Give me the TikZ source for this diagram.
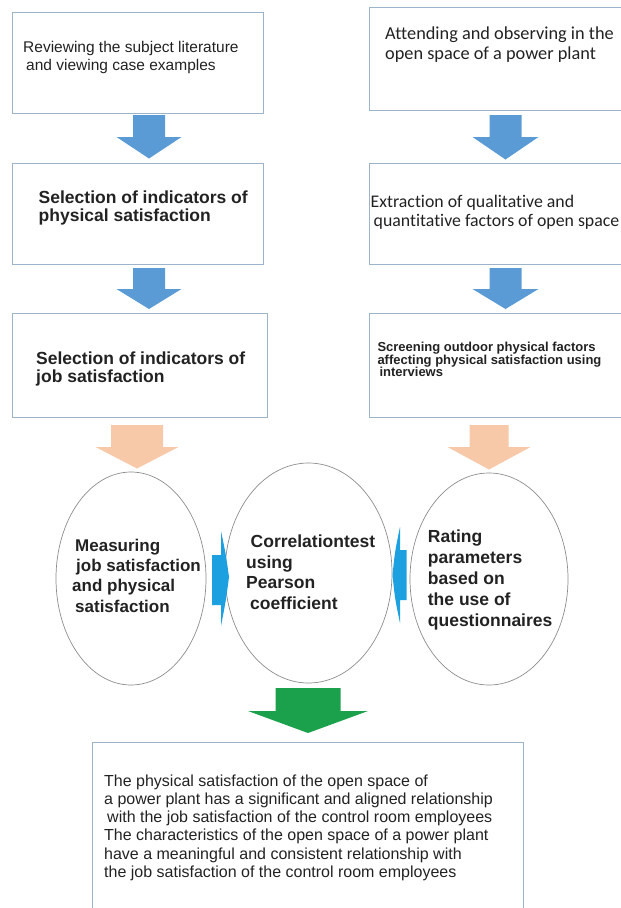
\documentclass[tikz,border=0pt]{standalone}
\usepackage{fontspec}
\setmainfont{Liberation Sans}
\newfontfamily\calibri[Ligatures=NoCommon]{Carlito}
\usepackage{tikz}
\usetikzlibrary{shapes.geometric, positioning}
\definecolor{BoxLine}{HTML}{9DB3C7}
\definecolor{OvalLine}{HTML}{8C8C8C}
\definecolor{StepBlue}{HTML}{5B9BD5}
\definecolor{Peach}{HTML}{F8C9A8}
\definecolor{LeafGreen}{HTML}{1BA14B}
\definecolor{SideCyan}{HTML}{1CA0E0}
\definecolor{InkGray}{HTML}{222222}
\newcommand{\fsz}[2]{\fontsize{#1}{#2}\selectfont}
% block arrow pointing down: colour, x, top, shaft half, head half, shaft len, head len
\newcommand{\blockdown}[7]{%
  \fill[#1] (#2-#4,#3) -- (#2+#4,#3) -- (#2+#4,#3+#6) -- (#2+#5,#3+#6)
    -- (#2,#3+#6+#7) -- (#2-#5,#3+#6) -- (#2-#4,#3+#6) -- cycle;}

\begin{document}
\begin{tikzpicture}[
    x=1pt, y=-1pt,
    box/.style={rectangle, draw=BoxLine, line width=0.8pt, inner sep=0pt,
                minimum width=251pt, minimum height=101pt},
    oval/.style={ellipse, draw=OvalLine, line width=0.7pt, inner sep=0pt},
    txt/.style={inner sep=0pt, align=left, anchor=base west, text=InkGray}
]
    \useasboundingbox (0,0) rectangle (621,908);
    \clip (0,0) rectangle (621,908);

    % Left column
    \node[box] (lit) at (137.5,62.5) {};
    \node[box, below=50pt of lit] (physsel) {};
    \node[box, below=48pt of physsel, minimum width=255pt, minimum height=104pt, xshift=2pt] (jobsel) {};

    % Right column
    \node[box, minimum width=262pt, minimum height=103pt] (attend) at (500,58.5) {};
    \node[box, minimum width=262pt, below=53pt of attend] (extract) {};
    \node[box, minimum width=262pt, minimum height=104pt, below=48pt of extract] (screen) {};

    % Ovals
    \node[oval, minimum width=150pt, minimum height=213pt] (measure) at (131,578.5) {};
    \node[oval, minimum width=167pt, minimum height=220pt] (corr) at (308.5,573) {};
    \node[oval, minimum width=158pt, minimum height=212pt] (rating) at (489,579) {};

    % Result
    \node[box, minimum width=431pt, minimum height=200pt, anchor=north] (concl) at (307.5,742) {};

    % Texts (placed at the baseline of the last line)
    \node[txt, font=\fsz{15.5}{17.5}] (lit-txt) at (23,70)
        {Reviewing the subject literature\\\hspace*{3pt}and viewing case examples};
    \node[txt, font=\fsz{17.5}{18.5}\bfseries] (physsel-txt) at (38.5,221.8)
        {Selection of indicators of\\physical satisfaction};
    \node[txt, font=\fsz{17.5}{18.5}\bfseries] (jobsel-txt) at (36,382.8)
        {Selection of indicators of\\job satisfaction};
    \node[txt, font=\calibri\fsz{18.3}{20}] (attend-txt) at (385,59.3)
        {Attending and observing in the\\open space of a power plant};
    \node[txt, font=\calibri\fsz{17.8}{18.7}] (extract-txt) at (370.5,226)
        {Extraction of qualitative and\\\hspace*{3pt}quantitative factors of open space};
    \node[txt, font=\fsz{13}{12.6}\bfseries] (screen-txt) at (377.3,376.9)
        {Screening outdoor physical factors\\affecting physical satisfaction using\\\hspace*{2pt}interviews};
    \node[txt, font=\fsz{17}{20.4}\bfseries] (measure-txt) at (72,612.2)
        {\hspace*{3pt}Measuring\\\hspace*{4pt}job satisfaction\\and physical\\\hspace*{3pt}satisfaction};
    \node[txt, font=\fsz{17.5}{20.5}\bfseries] (corr-txt) at (246,609.2)
        {\hspace*{4.5pt}Correlationtest\\using\\Pearson\\\hspace*{4pt}coefficient};
    \node[txt, font=\fsz{17.5}{21}\bfseries] (rating-txt) at (427.7,626.3)
        {Rating\\parameters\\based on\\the use of\\questionnaires};
    \node[txt, font=\fsz{16}{18.3}] (concl-txt) at (104,877.5)
        {The physical satisfaction of the open space of\\
         a power plant has a significant and aligned relationship\\
         \hspace*{3pt}with the job satisfaction of the control room employees\\
         The characteristics of the open space of a power plant\\
         have a meaningful and consistent relationship with\\
         the job satisfaction of the control room employees};

    % Block arrows
    \blockdown{StepBlue}{149}{115}{16}{32.5}{22}{21.5}
    \blockdown{StepBlue}{149}{268}{16}{32.5}{21}{20}
    \blockdown{StepBlue}{505.5}{115}{16}{33}{22}{22.5}
    \blockdown{StepBlue}{505.5}{268}{16}{33}{21}{20}
    \blockdown{Peach}{137}{425}{26}{41.5}{22}{21.5}
    \blockdown{Peach}{489}{425}{19.5}{41.5}{22}{22.5}
    \blockdown{LeafGreen}{308}{688}{32.5}{60}{23}{22}

    % Side arrows between ovals
    \fill[SideCyan] (212,555) -- (221,555) -- (221,531) .. controls (226,555) .. (229,577)
        .. controls (226,600) .. (221,626) -- (221,605) -- (212,605) -- cycle;
    \fill[SideCyan] (406.5,550) -- (400,550) -- (400,527) .. controls (395,551) .. (392.5,575)
        .. controls (395,599) .. (400,623) -- (400,600) -- (406.5,600) -- cycle;
\end{tikzpicture}
\end{document}
